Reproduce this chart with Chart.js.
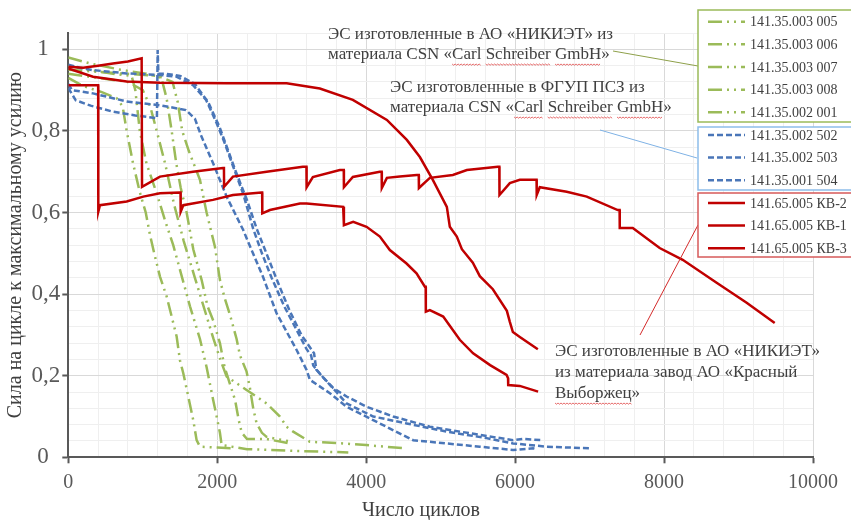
<!DOCTYPE html>
<html>
<head>
<meta charset="utf-8">
<script src="https://cdn.jsdelivr.net/npm/chart.js@4.4.0/dist/chart.umd.min.js"></script>
<style>
html, body { margin: 0; padding: 0; background: #fff; }
#wrap { width: 851px; height: 520px; position: relative; }
</style>
</head>
<body>
<div id="wrap"><canvas id="myChart"></canvas></div>
<script>
// подписи серий (в порядке легенды)
var labels = ['141.35.003 005', '141.35.003 006', '141.35.003 007', '141.35.003 008', '141.35.002 001',
              '141.35.002 502', '141.35.002 503', '141.35.001 504',
              '141.65.005 КВ-2', '141.65.005 КВ-1', '141.65.005 КВ-3'];

// [число циклов, сила / макс. усилие]
var g005 = [[0,0.93],[200,0.91],[450,0.895],[650,0.88],[730,0.86],[784,0.80],[870,0.72],[960,0.65],[1040,0.60],[1098,0.544],[1164,0.492],[1231,0.443],[1321,0.394],[1388,0.345],[1455,0.296],[1499,0.238],[1544,0.206],[1611,0.149],[1678,0.091],[1723,0.042],[1768,0.026],[2000,0.024],[2200,0.022]];
var g006 = [[0,0.96],[250,0.95],[600,0.94],[850,0.935],[900,0.90],[960,0.80],[1050,0.72],[1187,0.647],[1300,0.58],[1409,0.52],[1544,0.43],[1634,0.37],[1701,0.33],[1768,0.29],[1858,0.22],[1946,0.14],[1992,0.10],[2036,0.06],[2059,0.03],[2400,0.02],[3000,0.016],[3760,0.012]];
var g007 = [[0,0.98],[300,0.965],[700,0.95],[1050,0.94],[1250,0.93],[1320,0.88],[1388,0.80],[1450,0.72],[1510,0.66],[1589,0.60],[1678,0.51],[1790,0.435],[1870,0.37],[1946,0.335],[2036,0.28],[2100,0.22],[2170,0.18],[2240,0.14],[2290,0.09],[2330,0.06],[2400,0.045],[2660,0.045],[2976,0.034]];
var g008 = [[0,0.94],[400,0.93],[800,0.92],[1000,0.90],[1100,0.86],[1187,0.80],[1300,0.72],[1420,0.62],[1550,0.53],[1700,0.44],[1850,0.35],[1950,0.29],[2050,0.235],[2126,0.198],[2394,0.165],[2663,0.132],[2842,0.1],[2931,0.075],[3020,0.063],[3244,0.038],[3600,0.035],[4000,0.03],[4523,0.022]];
var g001 = [[0,0.95],[400,0.945],[800,0.94],[1200,0.935],[1400,0.92],[1470,0.87],[1530,0.80],[1620,0.75],[1768,0.68],[1857,0.60],[1969,0.516],[2036,0.435],[2100,0.39],[2170,0.35],[2260,0.29],[2305,0.25],[2394,0.21],[2439,0.17],[2483,0.12],[2529,0.083],[2600,0.06],[2663,0.05],[2800,0.045],[2950,0.04]];

var b502 = [[0,0.962],[150,0.955],[330,0.949],[784,0.941],[1231,0.937],[1450,0.933],[1675,0.912],[1850,0.876],[1992,0.819],[2100,0.77],[2215,0.712],[2350,0.645],[2483,0.56],[2600,0.50],[2730,0.44],[2900,0.37],[3066,0.312],[3200,0.265],[3260,0.25],[3289,0.225],[3400,0.2],[3557,0.17],[3737,0.149],[4005,0.124],[4362,0.1],[4855,0.075],[5526,0.055],[5973,0.042],[6100,0.045],[6376,0.042]];
var b503 = [[0,0.905],[100,0.875],[300,0.862],[600,0.847],[900,0.838],[1190,0.831],[1200,0.998],[1210,0.94],[1300,0.94],[1500,0.935],[1700,0.915],[1880,0.87],[2030,0.81],[2250,0.70],[2400,0.63],[2530,0.56],[2660,0.50],[2800,0.435],[2970,0.36],[3130,0.30],[3300,0.255],[3330,0.215],[3450,0.19],[3600,0.16],[3737,0.132],[4094,0.1],[4542,0.083],[5079,0.063],[5616,0.047],[5973,0.034],[6421,0.026],[7003,0.022]];
var b504 = [[0,0.915],[50,0.90],[332,0.892],[784,0.872],[1231,0.863],[1580,0.851],[1700,0.83],[1780,0.79],[1946,0.72],[2126,0.639],[2349,0.557],[2480,0.5],[2613,0.443],[2797,0.353],[3066,0.263],[3200,0.214],[3244,0.19],[3513,0.157],[3737,0.124],[4094,0.091],[4631,0.042],[5079,0.034],[5526,0.026],[5973,0.018],[6242,0.022],[6290,0.02]];

var kv2 = [[0,0.957],[200,0.955],[400,0.96],[600,0.965],[800,0.97],[985,0.978],[990,0.663],[1231,0.688],[1674,0.70],[2077,0.709],[2090,0.709],[2092,0.663],[2211,0.688],[2663,0.70],[3149,0.712],[3198,0.712],[3200,0.662],[3284,0.687],[3646,0.704],[3699,0.704],[3701,0.662],[3821,0.687],[4183,0.70],[4208,0.70],[4210,0.66],[4278,0.685],[4452,0.688],[4680,0.692],[4706,0.692],[4708,0.66],[4855,0.685],[5164,0.692],[5352,0.704],[5768,0.712],[5788,0.712],[5790,0.643],[5929,0.672],[6063,0.68],[6238,0.68],[6288,0.68],[6290,0.643],[6331,0.662],[6693,0.651],[6962,0.639],[7378,0.606],[7403,0.606],[7405,0.562],[7580,0.562],[7941,0.513],[8250,0.484],[8706,0.428],[9109,0.379],[9486,0.329]];
var kv1 = [[0,0.953],[332,0.933],[784,0.921],[1231,0.918],[2126,0.917],[2932,0.917],[3378,0.904],[3821,0.876],[4278,0.827],[4546,0.778],[4721,0.736],[4895,0.68],[5083,0.614],[5123,0.565],[5217,0.541],[5285,0.51],[5432,0.477],[5526,0.444],[5701,0.412],[5889,0.359],[5929,0.332],[5970,0.307],[6063,0.295],[6305,0.265]];
var kv3 = [[0,0.912],[401,0.912],[403,0.602],[425,0.618],[784,0.627],[1007,0.639],[1231,0.647],[1499,0.649],[1507,0.649],[1509,0.602],[1544,0.618],[1942,0.631],[2211,0.643],[2596,0.649],[2603,0.649],[2605,0.598],[2707,0.606],[3110,0.622],[3200,0.622],[3691,0.614],[3700,0.614],[3702,0.569],[3826,0.577],[4005,0.565],[4184,0.541],[4318,0.508],[4542,0.475],[4676,0.451],[4788,0.418],[4799,0.418],[4801,0.357],[4855,0.361],[5034,0.345],[5257,0.288],[5436,0.255],[5664,0.226],[5885,0.202],[5905,0.194],[5907,0.177],[6063,0.175],[6309,0.161]];

var seriesData = [g005, g006, g007, g008, g001, b502, b503, b504, kv2, kv1, kv3];

var GREEN = '#9bbb59', BLUE = '#4a76b8', RED = '#c00000';
var greenDash = [14, 5, 2, 5, 2, 5];
var blueDash = [6, 3];

function makeSet(i) {
    var color, dash;
    if (i < 5) { color = GREEN; dash = greenDash; }
    else if (i < 8) { color = BLUE; dash = blueDash; }
    else { color = RED; dash = []; }
    return {
        label: labels[i],
        data: seriesData[i].map(function (p) { return { x: p[0], y: p[1] }; }),
        borderColor: color,
        backgroundColor: color,
        borderDash: dash,
        borderWidth: 2.5,
        pointRadius: 0,
        fill: false,
        tension: 0,
        order: i < 5 ? 3 : (i < 8 ? 2 : 1)
    };
}

var datasets = [];
for (var i = 0; i < seriesData.length; i++) datasets.push(makeSet(i));

function isMajorY(v) { return Math.round(v * 100) % 20 === 0 && v <= 1.001; }
function isMajorX(v) { return Math.round(v) % 2000 === 0; }

var serif = '"Liberation Serif", "Times New Roman", serif';

// подписи групп, выноски и легенда
var notes = [
    { lines: ['ЭС изготовленные в АО «НИКИЭТ» из', 'материала CSN «Carl Schreiber GmbH»'], x: 328, y: 35, lh: 20,
      squiggle: [[], ['Carl', 'Schreiber', 'GmbH']], lineColor: '#8ea04a', from: [613, 51], to: [698, 66] },
    { lines: ['ЭС изготовленные в ФГУП ПСЗ из', 'материала CSN «Carl Schreiber GmbH»'], x: 390, y: 88, lh: 20,
      squiggle: [[], ['Carl', 'Schreiber', 'GmbH']], lineColor: '#7fb2e5', from: [600, 130], to: [697, 158] },
    { lines: ['ЭС изготовленные в АО «НИКИЭТ»', 'из материала завод АО «Красный', 'Выборжец»'], x: 555, y: 352, lh: 21,
      squiggle: [[], [], ['Выборжец']], lineColor: '#d42a2a', from: [640, 335], to: [698, 225] }
];

var legendBoxes = [
    { top: 10, bottom: 122, color: '#9bbb59' },
    { top: 127, bottom: 190, color: '#8dbdea' },
    { top: 193, bottom: 257, color: '#d65a5a' }
];

var overlay = {
    id: 'overlay',
    afterDraw: function (chart) {
        var ctx = chart.ctx;
        ctx.save();

        // подпись оси X
        ctx.font = '20px ' + serif;
        ctx.fillStyle = '#404040';
        ctx.textAlign = 'center';
        ctx.textBaseline = 'middle';
        ctx.fillText('Число циклов', 421, 511);
        ctx.textAlign = 'left';

        ctx.font = '17px ' + serif;
        notes.forEach(function (n) {
            ctx.strokeStyle = n.lineColor;
            ctx.lineWidth = 1;
            ctx.setLineDash([]);
            ctx.beginPath();
            ctx.moveTo(n.from[0], n.from[1]);
            ctx.lineTo(n.to[0], n.to[1]);
            ctx.stroke();
            n.lines.forEach(function (t, k) {
                var y = n.y + k * n.lh;
                ctx.fillStyle = '#404040';
                ctx.fillText(t, n.x, y);
                (n.squiggle[k] || []).forEach(function (w) {
                    var at = t.indexOf(w);
                    var x0 = n.x + ctx.measureText(t.slice(0, at)).width;
                    var x1 = x0 + ctx.measureText(w).width;
                    ctx.strokeStyle = '#e04848';
                    ctx.lineWidth = 0.8;
                    ctx.beginPath();
                    for (var x = x0, up = true; x <= x1; x += 1.5, up = !up) {
                        var yy = y + 9 + (up ? 0 : 1.2);
                        if (x === x0) ctx.moveTo(x, yy); else ctx.lineTo(x, yy);
                    }
                    ctx.stroke();
                });
            });
        });

        ctx.font = '14px ' + serif;
        legendBoxes.forEach(function (b) {
            ctx.fillStyle = '#ffffff';
            ctx.fillRect(698, b.top, 160, b.bottom - b.top);
            ctx.strokeStyle = b.color;
            ctx.lineWidth = 1.5;
            ctx.setLineDash([]);
            ctx.strokeRect(698, b.top, 160, b.bottom - b.top);
        });
        for (var i = 0; i < datasets.length; i++) {
            var d = datasets[i];
            var y = 21.7 + i * 22.65;
            ctx.strokeStyle = d.borderColor;
            ctx.lineWidth = d.borderWidth;
            ctx.setLineDash(d.borderDash);
            ctx.beginPath();
            ctx.moveTo(708, y);
            ctx.lineTo(745, y);
            ctx.stroke();
            ctx.setLineDash([]);
            ctx.fillStyle = '#404040';
            ctx.fillText(d.label, 750, y + 1);
        }
        ctx.restore();
    }
};

var ctx = document.getElementById('myChart').getContext('2d');
var myChart = new Chart(ctx, {
    type: 'line',
    data: { datasets: datasets },
    options: {
        responsive: true,
        maintainAspectRatio: false,
        animation: false,
        layout: { padding: { top: 33, right: 38, left: 0, bottom: 0 } },
        plugins: {
            legend: { display: false },
            tooltip: { enabled: false }
        },
        scales: {
            x: {
                type: 'linear',
                min: 0,
                max: 10000,
                afterFit: function (s) { s.height = 62.7; },
                border: { color: '#595959', width: 2 },
                grid: {
                    color: function (c) { return isMajorX(c.tick.value) ? '#d9d9d9' : '#efefef'; },
                    tickColor: function (c) { return isMajorX(c.tick.value) ? '#595959' : 'rgba(0,0,0,0)'; },
                    tickLength: 6,
                    tickWidth: 2
                },
                ticks: {
                    stepSize: 400,
                    autoSkip: false,
                    maxRotation: 0,
                    padding: 7,
                    color: '#595959',
                    font: { family: serif, size: 20 },
                    callback: function (v) { return isMajorX(v) ? String(v) : ''; }
                }
            },
            y: {
                min: 0,
                max: 1.04,
                afterFit: function (s) { s.width = 68.3; },
                border: { color: '#595959', width: 2 },
                grid: {
                    color: function (c) { return isMajorY(c.tick.value) ? '#d9d9d9' : '#efefef'; },
                    tickColor: function (c) { return isMajorY(c.tick.value) ? '#595959' : 'rgba(0,0,0,0)'; },
                    tickLength: 6,
                    tickWidth: 2
                },
                ticks: {
                    stepSize: 0.04,
                    autoSkip: false,
                    padding: 2,
                    color: '#595959',
                    font: { family: serif, size: 23 },
                    callback: function (v) {
                        if (!isMajorY(v)) return '';
                        var r = Math.round(v * 10) / 10;
                        // целые значения без дробной части
                        return r % 1 === 0 ? String(r) + '\u2002' : String(r).replace('.', ',');
                    }
                },
                title: {
                    display: true,
                    text: 'Сила на цикле к максимальному усилию',
                    color: '#404040',
                    font: { family: serif, size: 20 },
                    padding: { top: 4, bottom: 0 }
                }
            }
        }
    },
    plugins: [overlay]
});
</script>
</body>
</html>
